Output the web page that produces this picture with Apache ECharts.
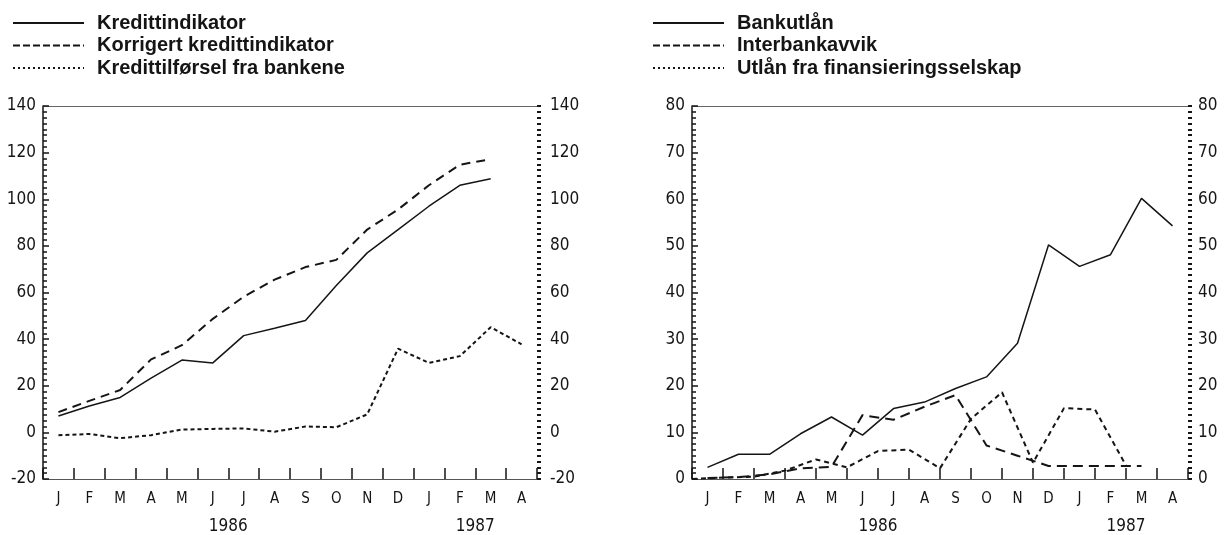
<!DOCTYPE html>
<html><head><meta charset="utf-8">
<script src="https://cdn.jsdelivr.net/npm/echarts@6/dist/echarts.min.js"></script>
<style>html,body{margin:0;padding:0;background:#fff}#c{width:1229px;height:535px}</style>
</head><body><div id="c"></div><script>
const months = ['J','F','M','A','M','J','J','A','S','O','N','D','J','F','M','A'];
const yearLabels = ['','','','','','','1986','','','','','','','','1987','',''];
// Left chart (category centres)
const kredittindikator = [7.0, 11.3, 15.0, 23.3, 31.0, 29.8, 41.5, 44.7, 48.0, 63.0, 77.0, 87.0, 97.0, 106.0, 108.8, null];
const korrigert = [8.7, 13.5, 18.2, 31.3, 37.4, 48.7, 58.2, 65.5, 70.9, 74.0, 87.0, 95.6, 106.0, 114.8, 117.2, null];
const kredittilforsel = [-1.2, -0.7, -2.5, -1.2, 1.2, 1.5, 1.7, 0.3, 2.5, 2.2, 7.7, 35.9, 29.8, 32.7, 45.1, 37.8];
// Right chart
const bankutlan = [2.5, 5.3, 5.3, 9.7, 13.3, 9.4, 15.1, 16.5, 19.4, 21.9, 29.1, 50.2, 45.6, 48.1, 60.2, 54.3];
const interbankavvik = [0.2, 0.4, 1.0, 2.3, 2.6, 13.7, 12.7, 15.5, 18.0, 7.2, 5.0, 2.8, 2.8, 2.8, 2.8, null];
// sampled at month boundaries (17 points)
const finansiering = [0, 0.3, 0.5, 1.8, 4.2, 2.5, 6.0, 6.3, 2.3, 12.9, 18.6, 3.5, 15.2, 14.9, 2.9, null, null];

const INK = '#151515';
const FONT = "'DejaVu Sans Condensed','Liberation Sans Narrow',sans-serif";
const monthFont = {fontFamily: FONT, fontSize: 15, color: INK};
const valueFont = {fontFamily: FONT, fontSize: 17, color: INK};
const yearFont = {fontFamily: FONT, fontSize: 17, color: INK};

function monthAxis(grid) {
  return {type: 'category', gridIndex: grid, data: months, boundaryGap: true,
    axisLine: {show: true, onZero: false, lineStyle: {color: '#555', width: 1}},
    axisTick: {show: true, inside: true, length: 11, lineStyle: {color: INK, width: 1.5}},
    axisLabel: Object.assign({margin: 13, interval: 0}, monthFont),
    splitLine: {show: false}};
}
function yearAxis(grid) {
  return {type: 'category', gridIndex: grid, data: yearLabels, boundaryGap: false, position: 'bottom',
    axisLine: {show: false, onZero: false}, axisTick: {show: false},
    axisLabel: Object.assign({margin: 39, interval: 0}, yearFont), splitLine: {show: false}};
}
function topAxis(grid) {
  return {type: 'category', gridIndex: grid, data: months, position: 'top',
    axisLine: {show: true, onZero: false, lineStyle: {color: '#666', width: 1.2}},
    axisTick: {show: false}, axisLabel: {show: false}, splitLine: {show: false}};
}
function leftY(grid, min, max, interval) {
  return {type: 'value', gridIndex: grid, position: 'left', min, max, interval,
    axisLine: {show: true, onZero: false, lineStyle: {color: INK, width: 1.5}},
    axisTick: {show: true, inside: true, length: 6, lineStyle: {color: INK, width: 1.5}},
    minorTick: {show: true, splitNumber: 8, length: 4, lineStyle: {color: INK, width: 1.5}},
    axisLabel: Object.assign({margin: 7, padding: [4, 0, 0, 0]}, valueFont),
    splitLine: {show: false}, minorSplitLine: {show: false}};
}
function rightY(grid, min, max, interval, margin) {
  return {type: 'value', gridIndex: grid, position: 'right', min, max, interval,
    axisLine: {show: false, onZero: false},
    axisTick: {show: true, inside: false, length: 4, lineStyle: {color: INK, width: 2}},
    minorTick: {show: true, splitNumber: 8, length: 4, lineStyle: {color: INK, width: 2}},
    axisLabel: Object.assign({margin: margin, padding: [4, 0, 0, 0]}, valueFont),
    splitLine: {show: false}, minorSplitLine: {show: false}};
}
function line(name, data, xi, yi, type, width) {
  return {name, type: 'line', data, xAxisIndex: xi, yAxisIndex: yi, symbol: 'none', showSymbol: false,
    lineStyle: {color: INK, width: width, type: type}, itemStyle: {color: INK}, connectNulls: false, animation: false};
}
const legendText = {fontFamily: "'Liberation Sans',Arial,sans-serif", fontSize: 20, fontWeight: 'bold', color: INK, padding: [0, 0, 0, 8]};
const legendBase = {orient: 'vertical', top: 13, padding: 0, itemWidth: 71, itemHeight: 20, itemGap: 2.5,
  textStyle: legendText, selectedMode: false, itemStyle: {opacity: 0, borderWidth: 0}};
function li(name, type) { return {name: name, lineStyle: {type: type, width: 2}}; }

const option = {
  backgroundColor: '#fff',
  animation: false,
  legend: [
    Object.assign({left: 12, data: [li('Kredittindikator', 'solid'), li('Korrigert kredittindikator', [7, 3]), li('Kredittilførsel fra bankene', [2, 3])]}, legendBase),
    Object.assign({left: 652, data: [li('Bankutlån', 'solid'), li('Interbankavvik', [7, 3]), li('Utlån fra finansieringsselskap', [2, 3])]}, legendBase)
  ],
  grid: [
    {left: 43, top: 106, width: 494, height: 373, show: false},
    {left: 692, top: 106, width: 496, height: 373, show: false}
  ],
  xAxis: [monthAxis(0), yearAxis(0), topAxis(0), monthAxis(1), yearAxis(1), topAxis(1)],
  yAxis: [leftY(0, -20, 140, 20), rightY(0, -20, 140, 20, 13), leftY(1, 0, 80, 10), rightY(1, 0, 80, 10, 10)],
  series: [
    line('Kredittindikator', kredittindikator, 0, 0, 'solid', 1.5),
    line('Korrigert kredittindikator', korrigert, 0, 0, [9,6], 2),
    line('Kredittilførsel fra bankene', kredittilforsel, 0, 0, [4,3], 2),
    line('Bankutlån', bankutlan, 3, 2, 'solid', 1.5),
    line('Interbankavvik', interbankavvik, 3, 2, [10,6], 2),
    line('Utlån fra finansieringsselskap', finansiering, 4, 2, [5,4], 2)
  ]
};
const chart = echarts.init(document.getElementById('c'), null, {renderer: 'canvas'});
chart.setOption(option);
</script></body></html>
